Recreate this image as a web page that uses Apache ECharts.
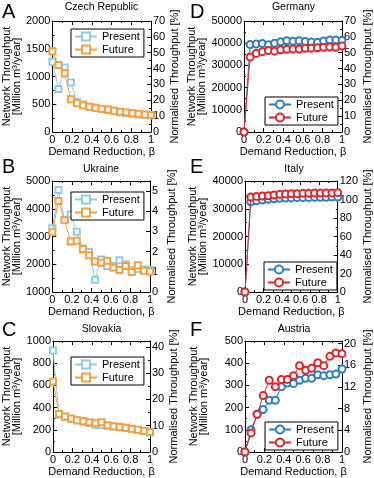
<!DOCTYPE html>
<html><head><meta charset="utf-8">
<script src="https://cdn.jsdelivr.net/npm/echarts@6/dist/echarts.min.js"></script>
<style>html,body{margin:0;padding:0;background:#fff}#c{width:374px;height:478px}</style>
</head><body><div id="c"></div>
<script>
const beta = [0, 0.0625, 0.125, 0.1875, 0.25, 0.3125, 0.375, 0.4375, 0.5, 0.5625, 0.625, 0.6875, 0.75, 0.8125, 0.875, 0.9375, 1];
const xTicks = ['0', '0.2', '0.4', '0.6', '0.8', '1'];

const czPresent = [1266, 775, 1160, 890, 545, 495, 455, 435, 413, 395, 372, 355, 340, 328, 315, 305, 298];
const czFuture  = [1455, 1207, 1057, 590, 518, 478, 455, 437, 419, 405, 384, 364, 352, 340, 328, 316, 305];
const uaPresent = [3300, 4680, 3600, 3790, 3175, 2570, 2440, 1440, 2170, 1940, 1950, 2140, 2000, 1780, 1830, 1810, 1790];
const uaFuture  = [3150, 4280, 3583, 2820, 2850, 2550, 2320, 2100, 2050, 2125, 1880, 1790, 1940, 1720, 1965, 1770, 1740];
const skPresent = [915, 335, 315, 298, 283, 272, 262, 245, 240, 235, 230, 222, 216, 208, 200, 188, 178];
const skFuture  = [635, 342, 320, 302, 287, 278, 267, 258, 268, 240, 233, 225, 218, 210, 201, 190, 180];
const dePresent = [0, 39400, 39600, 39900, 39300, 40000, 40600, 41100, 40900, 41100, 40800, 40500, 40400, 41000, 41400, 41400, 41300];
const deFuture  = [0, 33800, 35400, 36200, 36700, 36400, 37000, 37300, 37400, 37400, 37700, 37700, 37900, 38200, 38300, 38200, 38700];
const itPresent = [0, 32500, 32900, 33150, 33400, 33600, 33750, 33850, 33900, 34000, 34000, 34000, 34100, 34100, 34100, 34200, 34250];
const itFuture  = [0, 34200, 34450, 34600, 34700, 34950, 35200, 35300, 35400, 35450, 35550, 35550, 35650, 35650, 35700, 35700, 35800];
const atPresent = [0, 100, 170, 191, 233, 233, 294, 311, 308, 323, 332, 332, 348, 344, 348, 351, 374];
const atFuture  = [0, 86, 170, 254, 323, 294, 327, 327, 344, 389, 368, 377, 402, 389, 431, 446, 443];

const FONT = 'Liberation Sans, Arial, Helvetica, sans-serif';
const panels = [
  {letter:'A', title:'Czech Republic', p:czPresent, f:czFuture, style:'sq', left:52, top:21, w:99, yMin:0, yMax:2000, yInt:500, rMax:70, rInt:10, leg:[71,29], letterY:12, titleY:7},
  {letter:'B', title:'Ukraine', p:uaPresent, f:uaFuture, style:'sq', left:52, top:181, w:98, yMin:1000, yMax:5000, yInt:1000, rMax:5.5, rInt:1, leg:[71,192], letterY:167.5, titleY:169},
  {letter:'C', title:'Slovakia', p:skPresent, f:skFuture, style:'sq', left:53, top:341, w:97, yMin:0, yMax:1000, yInt:200, rMax:42.2, rInt:10, leg:[71,357], letterY:330.5, titleY:329},
  {letter:'D', title:'Germany', p:dePresent, f:deFuture, style:'ci', left:244, top:21, w:99, yMin:0, yMax:50000, yInt:10000, rMax:70, rInt:10, leg:[265,97], letterY:12, titleY:7},
  {letter:'E', title:'Italy', p:itPresent, f:itFuture, style:'ci', left:245, top:181, w:98, yMin:0, yMax:40000, yInt:10000, rMax:120, rInt:20, leg:[264,262], letterY:167.5, titleY:169},
  {letter:'F', title:'Austria', p:atPresent, f:atFuture, style:'ci', left:245, top:341, w:98, yMin:0, yMax:500, yInt:100, rMax:20.5, rInt:4, leg:[265,422], letterY:330.5, titleY:329}
];
const H = 111;
const colors = {
  sq: {p:'#8fcde8', f:'#f6a03f', sym:'rect', size:6, names:['Present','Future']},
  ci: {p:'#2b7fc3', f:'#e2252b', sym:'circle', size:7, names:['Present.','Future.']}
};

const grid = [], xAxis = [], yAxis = [], series = [], legend = [], graphic = [];
const axisLine = {show:true, onZero:false, lineStyle:{color:'#000', width:1}};
const tickCommon = {show:true, inside:true, length:4, lineStyle:{color:'#000', width:1}};
const minorCommon = {show:true, splitNumber:2, length:2, lineStyle:{color:'#000', width:1}};
const labelStyle = {color:'#000', fontSize:11, fontFamily:FONT};

panels.forEach((c, i) => {
  grid.push({left:c.left, top:c.top, width:c.w, height:H, containLabel:false});
  xAxis.push({type:'value', gridIndex:i, position:'bottom', min:0, max:1, interval:0.2,
    axisLine, axisTick:tickCommon, minorTick:minorCommon, splitLine:{show:false},
    axisLabel:{...labelStyle, margin:2, formatter:v => xTicks[Math.round(v/0.2)]},
    name:'Demand Reduction, β', nameLocation:'middle', nameGap:14,
    nameTextStyle:{color:'#000', fontSize:11, fontFamily:FONT}});
  xAxis.push({type:'value', gridIndex:i, position:'top', min:0, max:1, interval:0.2,
    axisLine, axisTick:tickCommon, minorTick:minorCommon, splitLine:{show:false}, axisLabel:{show:false}});
  yAxis.push({type:'value', gridIndex:i, position:'left', min:c.yMin, max:c.yMax, interval:c.yInt,
    axisLine, axisTick:tickCommon, minorTick:minorCommon, splitLine:{show:false},
    axisLabel:{...labelStyle, margin:2, formatter:v => String(v)},
    name:'Network Throughput\n[Million m³/year]', nameLocation:'middle', nameRotate:90,
    nameGap: c.style==='sq' ? 30 : 36,
    nameTextStyle:{color:'#000', fontSize:11, lineHeight:10, fontFamily:FONT}});
  yAxis.push({type:'value', gridIndex:i, position:'right', min:0, max:c.rMax, interval:c.rInt,
    axisLine, axisTick:tickCommon, minorTick:{...minorCommon, show:c.rInt!==1 && c.rInt!==4 ? true : false}, splitLine:{show:false},
    axisLabel:{...labelStyle, margin:2, showMaxLabel:true, formatter:v => (Math.abs(v/c.rInt - Math.round(v/c.rInt))<1e-6) ? String(v) : ''},
    name:'Normalised Throughput [%]', nameLocation:'middle', nameRotate:90,
    nameGap: c.style==='sq' ? 16 : 20,
    nameTextStyle:{color:'#000', fontSize:11, fontFamily:FONT}});
  const st = colors[c.style];
  [['p', st.names[0]], ['f', st.names[1]]].forEach(([k, nm]) => {
    series.push({type:'line', name:nm, xAxisIndex:2*i, yAxisIndex:2*i,
      data: beta.map((b, j) => [b, c[k][j]]),
      symbol:'empty' + (st.sym==='rect' ? 'Rect' : 'Circle'), symbolSize:st.size, showSymbol:true,
      lineStyle:{color:st[k], width:1}, itemStyle:{color:st[k], borderColor:st[k], borderWidth:1.4},
      emphasis:{disabled:true}, animation:false, z: k==='f' ? 3 : 2});
  });
  legend.push({data:st.names, left:c.leg[0], top:c.leg[1], orient:'vertical',
    backgroundColor:'#fff', borderColor:'#000', borderWidth:1, borderRadius:0,
    padding:[2,4,2,3], itemGap:2, itemWidth:22, itemHeight:10,
    formatter: n => n.replace('.', ''),
    textStyle:{color:'#000', fontSize:11, lineHeight:11, fontFamily:FONT}, selectedMode:false});
  graphic.push({type:'text', left: c.style==='sq' ? 2 : 190, top: c.letterY - 10,
    style:{text:c.letter, font:'20px ' + FONT, fill:'#000'}});
  graphic.push({type:'text', x: c.left + c.w/2, y: c.titleY,
    style:{text:c.title, font:'10.5px ' + FONT, fill:'#000', textAlign:'center', textVerticalAlign:'middle'}});
});

const chart = echarts.init(document.getElementById('c'), null, {renderer:'canvas'});
chart.setOption({animation:false, grid, xAxis, yAxis, series, legend, graphic});
</script>
</body></html>
